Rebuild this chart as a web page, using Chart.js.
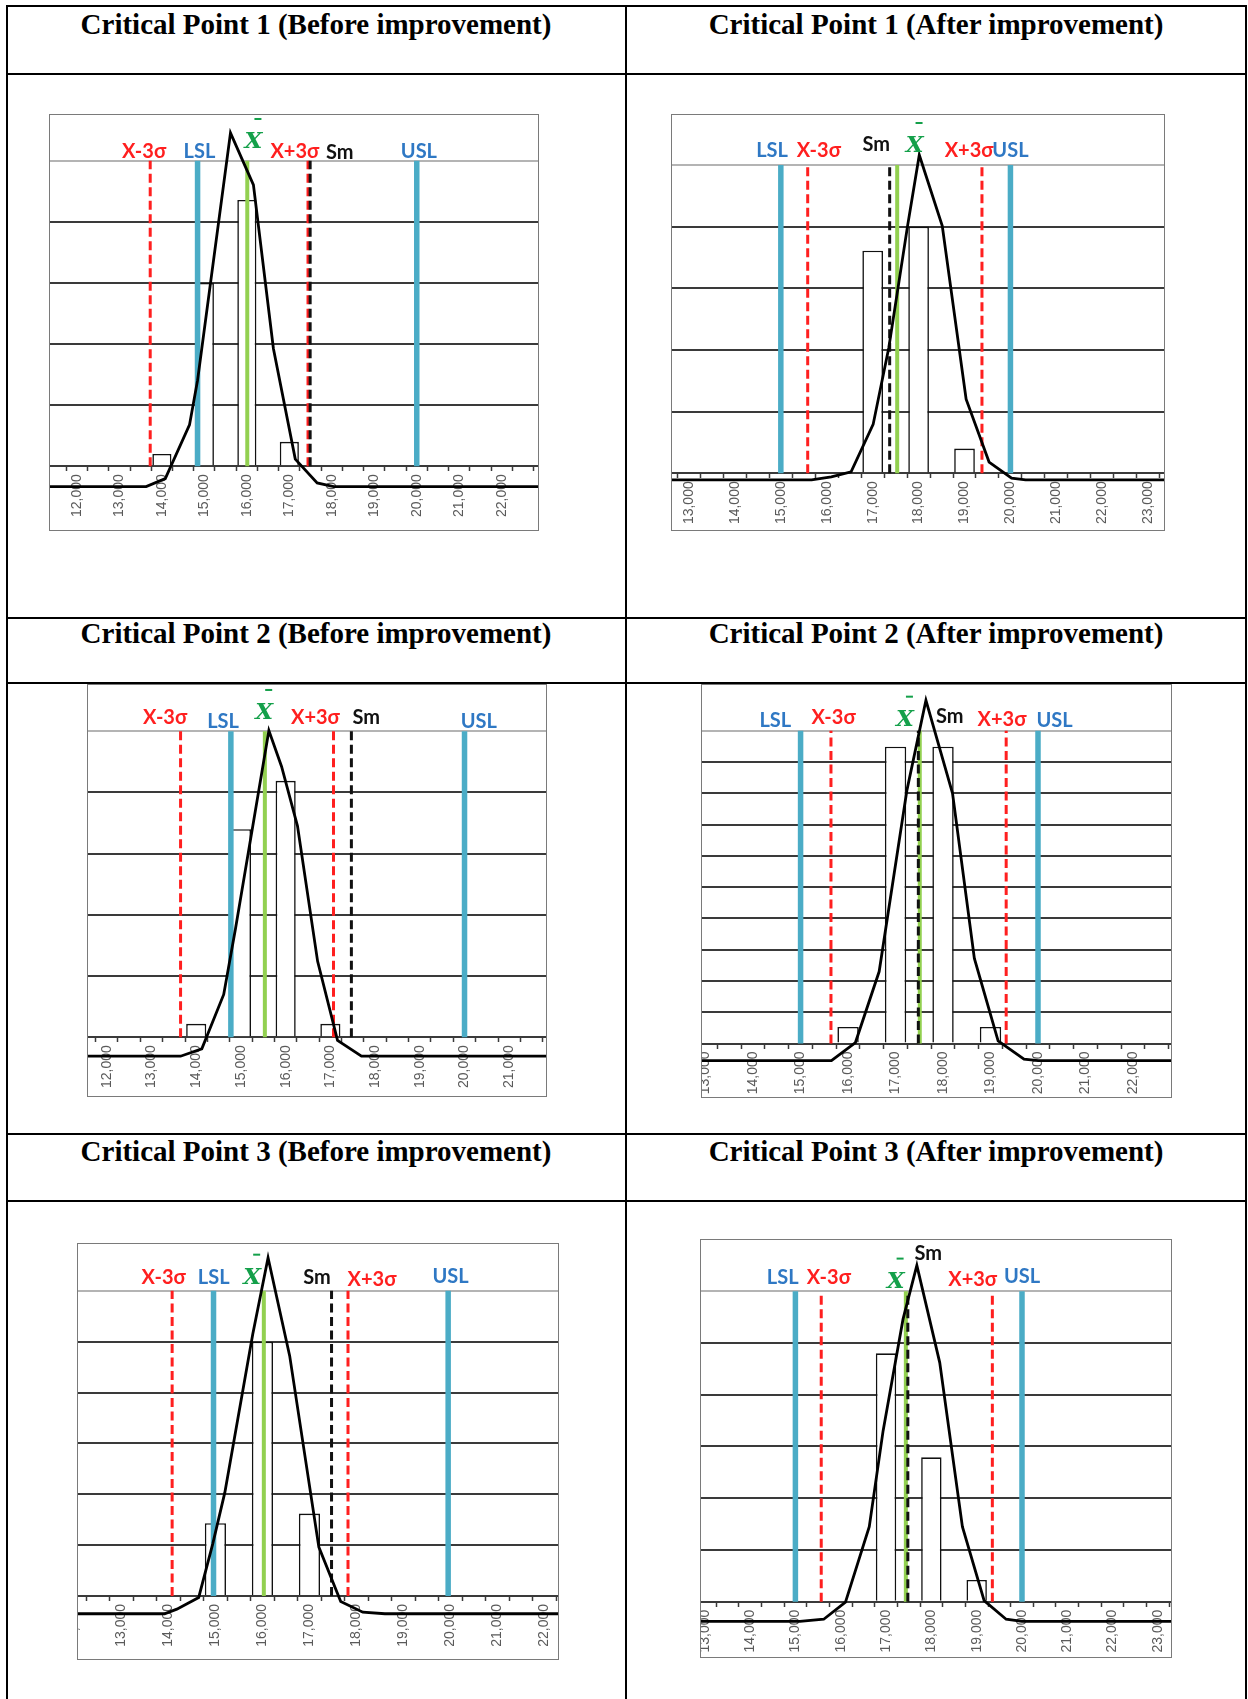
<!DOCTYPE html>
<html>
<head>
<meta charset="utf-8">
<script src="https://cdn.jsdelivr.net/npm/chart.js@4.4.1/dist/chart.umd.min.js"></script>
<style>
  body { margin: 0; background: #fff; width: 1248px; height: 1699px; overflow: hidden; position: relative; }
  .rule { position: absolute; background: #000; }
  .title { position: absolute; width: 620px; text-align: center; white-space: nowrap;
           font: bold 29px "Liberation Serif", "Times New Roman", serif; line-height: 29px; color: #000; }
  .frame { position: absolute; border: 1px solid #7a7a7a; background: #fff; }
  .frame canvas { display: block; }
</style>
</head>
<body>
<script>
// ===== Data =====

// marker order on every chart: X-3σ, LSL, mean, X+3σ, Sm, USL
const markerNames = ['X-3σ', 'LSL', 'X', 'X+3σ', 'Sm', 'USL'];

// Critical Point 1, before improvement
const cp1BeforeTicks = [12000, 13000, 14000, 15000, 16000, 17000, 18000, 19000, 20000, 21000, 22000];
const cp1BeforeBarX = [14000, 15000, 16000, 17000];
const cp1BeforeBarY = [0.2, 3.0, 4.36, 0.4];
const cp1BeforeCurveX = [11000, 13630, 14080, 14650, 14840, 15615, 15970, 16155, 16625, 17140, 17655, 18045, 23000];
const cp1BeforeCurveY = [0, 0, 0.13, 1.01, 1.74, 5.79, 5.23, 4.94, 2.26, 0.45, 0.06, 0, 0];
const cp1BeforeMarkers = [13725, 14840, 16010, 17440, 17490, 20000];

// Critical Point 1, after improvement
const cp1AfterTicks = [13000, 14000, 15000, 16000, 17000, 18000, 19000, 20000, 21000, 22000, 23000];
const cp1AfterBarX = [17000, 18000, 19000];
const cp1AfterBarY = [3.61, 4.0, 0.4];
const cp1AfterCurveX = [12500, 15670, 16100, 16530, 17010, 17350, 17760, 18015, 18515, 19035, 19535, 20025, 20330, 23500];
const cp1AfterCurveY = [0, 0, 0.05, 0.13, 0.90, 2.14, 4.12, 5.27, 4.12, 1.31, 0.29, 0.03, 0, 0];
const cp1AfterMarkers = [15585, 15000, 17534, 19380, 17370, 20000];

// Critical Point 2, before improvement
const cp2BeforeTicks = [12000, 13000, 14000, 15000, 16000, 17000, 18000, 19000, 20000, 21000];
const cp2BeforeBarX = [14000, 15000, 16000, 17000];
const cp2BeforeBarY = [0.22, 3.4, 4.19, 0.22];
const cp2BeforeCurveX = [11500, 13650, 14125, 14615, 14880, 15625, 15910, 16265, 16715, 17160, 17695, 22000];
const cp2BeforeCurveY = [0, 0, 0.12, 1.01, 2.09, 5.32, 4.73, 3.76, 1.55, 0.26, 0, 0];
const cp2BeforeMarkers = [13650, 14775, 15535, 17070, 17470, 20000];

// Critical Point 2, after improvement
const cp2AfterTicks = [13000, 14000, 15000, 16000, 17000, 18000, 19000, 20000, 21000, 22000];
const cp2AfterBarX = [16000, 17000, 18000, 19000];
const cp2AfterBarY = [0.53, 9.49, 9.49, 0.53];
const cp2AfterCurveX = [12900, 15650, 16155, 16655, 17240, 17640, 18200, 18660, 19160, 19705, 20000, 22900];
const cp2AfterCurveY = [0, 0, 0.58, 2.85, 8.65, 11.52, 8.55, 3.27, 0.63, 0.05, 0, 0];
const cp2AfterMarkers = [15640, 15000, 17510, 19330, 17480, 20000];

// Critical Point 3, before improvement
const cp3BeforeTicks = [12000, 13000, 14000, 15000, 16000, 17000, 18000, 19000, 20000, 21000, 22000];
const cp3BeforeBarX = [15000, 16000, 17000];
const cp3BeforeBarY = [1.43, 5.0, 1.62];
const cp3BeforeCurveX = [12000, 13920, 14180, 14645, 14945, 15200, 15795, 16120, 16580, 17200, 17665, 18135, 18605, 22300];
const cp3BeforeCurveY = [0, 0, 0.09, 0.32, 1.38, 2.38, 5.50, 7.00, 5.07, 1.31, 0.24, 0.03, 0, 0];
const cp3BeforeMarkers = [14080, 14960, 16030, 17820, 17470, 19950];

// Critical Point 3, after improvement
const cp3AfterTicks = [13000, 14000, 15000, 16000, 17000, 18000, 19000, 20000, 21000, 22000, 23000];
const cp3AfterBarX = [17000, 18000, 19000];
const cp3AfterBarY = [4.8, 2.79, 0.42];
const cp3AfterCurveX = [12900, 15100, 15625, 16105, 16630, 16935, 17375, 17680, 18185, 18685, 19165, 19650, 20000, 23300];
const cp3AfterCurveY = [0, 0, 0.04, 0.37, 1.83, 3.68, 5.84, 6.88, 5.00, 1.83, 0.40, 0.04, 0, 0];
const cp3AfterMarkers = [15570, 15000, 17437, 19346, 17481, 20000];

// ===== Styles =====
const markerStyles = [
  { color: '#ff1f1f', width: 3, dash: [9, 4.5], order: 3 },
  { color: '#4bacc6', width: 5.5, dash: [], order: 5 },
  { color: '#92d050', width: 4, dash: [], order: 4 },
  { color: '#ff1f1f', width: 3, dash: [9, 4.5], order: 3 },
  { color: '#111111', width: 3, dash: [9, 4.5], order: 2 },
  { color: '#4bacc6', width: 5.5, dash: [], order: 5 },
];
const labelColors = ['#ff1f1f', '#2f78c4', '#14a04a', '#ff1f1f', '#111111', '#2f78c4'];

// ===== Layout: table rules, titles, chart frames =====
const vRules = [6, 625, 1245];
const hRules = [5, 72.5, 616.5, 681.5, 1133, 1199.5];
vRules.forEach(x => addRule(x, 5, 2, 1700));
hRules.forEach(y => addRule(6, y, 1241, 2));

function addRule(left, top, w, h) {
  const d = document.createElement('div');
  d.className = 'rule';
  Object.assign(d.style, { left: left + 'px', top: top + 'px', width: w + 'px', height: h + 'px' });
  document.body.appendChild(d);
}

const titles = [
  ['Critical Point 1 (Before improvement)', 6, 10],
  ['Critical Point 1 (After improvement)', 626, 10],
  ['Critical Point 2 (Before improvement)', 6, 619],
  ['Critical Point 2 (After improvement)', 626, 619],
  ['Critical Point 3 (Before improvement)', 6, 1136.5],
  ['Critical Point 3 (After improvement)', 626, 1136.5],
];
titles.forEach(([text, left, top]) => {
  const d = document.createElement('div');
  d.className = 'title';
  d.textContent = text;
  d.style.left = left + 'px';
  d.style.top = top + 'px';
  document.body.appendChild(d);
});

// box = frame [left, top, width, height]; x/y = value range covered by the frame;
// curveBase = where the fitted curve's zero sits on the histogram's y scale
const panels = [
  { box: [49, 114, 490, 417], x: [11366, 22854], y: [-1.044, 5.75], gridTop: 5, curveBase: -0.333,
    ticks: cp1BeforeTicks, barX: cp1BeforeBarX, barY: cp1BeforeBarY,
    curveX: cp1BeforeCurveX, curveY: cp1BeforeCurveY, markers: cp1BeforeMarkers,
    labelAt: [[13580, 5.04], [14885, 5.04], [16155, 5.21], [17130, 5.04], [18185, 5.03], [20050, 5.04]] },
  { box: [671, 114, 494, 417], x: [12630, 23344], y: [-0.92, 5.81], gridTop: 5, curveBase: -0.108,
    ticks: cp1AfterTicks, barX: cp1AfterBarX, barY: cp1AfterBarY,
    curveX: cp1AfterCurveX, curveY: cp1AfterCurveY, markers: cp1AfterMarkers,
    labelAt: [[15827, 5.13], [14810, 5.13], [17912, 5.21], [19100, 5.13], [17077, 5.22], [20000, 5.13]] },
  { box: [87, 684, 460, 413], x: [11580, 21822], y: [-0.96, 5.755], gridTop: 5, curveBase: -0.31,
    ticks: cp2BeforeTicks, barX: cp2BeforeBarX, barY: cp2BeforeBarY,
    curveX: cp2BeforeCurveX, curveY: cp2BeforeCurveY, markers: cp2BeforeMarkers,
    labelAt: [[13304, 5.12], [14600, 5.06], [15520, 5.20], [16666, 5.12], [17802, 5.12], [20320, 5.06]] },
  { box: [701, 684, 471, 414], x: [12924, 22801], y: [-1.71, 11.46], gridTop: 10, curveBase: -0.55,
    ticks: cp2AfterTicks, barX: cp2AfterBarX, barY: cp2AfterBarY,
    curveX: cp2AfterCurveX, curveY: cp2AfterCurveY, markers: cp2AfterMarkers,
    labelAt: [[15695, 10.21], [14468, 10.11], [17198, 10.16], [19243, 10.16], [18142, 10.26], [20349, 10.11]] },
  { box: [77, 1243, 482, 417], x: [12078, 22286], y: [-1.24, 6.92], gridTop: 6, curveBase: -0.35,
    ticks: cp3BeforeTicks, barX: cp3BeforeBarX, barY: cp3BeforeBarY,
    curveX: cp3BeforeCurveX, curveY: cp3BeforeCurveY, markers: cp3BeforeMarkers,
    labelAt: [[13900, 6.14], [14964, 6.14], [15782, 6.14], [18330, 6.09], [17161, 6.14], [20000, 6.16]] },
  { box: [700, 1239, 472, 419], x: [12917, 23288], y: [-1.07, 6.99], gridTop: 6, curveBase: -0.38,
    ticks: cp3AfterTicks, barX: cp3AfterBarX, barY: cp3AfterBarY,
    curveX: cp3AfterCurveX, curveY: cp3AfterCurveY, markers: cp3AfterMarkers,
    labelAt: [[15737, 6.14], [14720, 6.14], [17211, 6.07], [18912, 6.10], [17930, 6.61], [20000, 6.15]] },
];

function labelPlugin(p) {
  return {
    id: 'markerLabels',
    afterDatasetsDraw(chart) {
      const { ctx, scales } = chart;
      ctx.save();
      ctx.textAlign = 'center';
      ctx.textBaseline = 'alphabetic';
      p.labelAt.forEach(([lx, ly], i) => {
        const px = scales.x.getPixelForValue(lx);
        const py = scales.y.getPixelForValue(ly);
        ctx.fillStyle = labelColors[i];
        if (i === 2) {
          ctx.font = 'italic bold 23px "DejaVu Serif", "Liberation Serif", serif';
          ctx.fillText(markerNames[i], px, py);
          ctx.fillRect(px + 1, py - 30, 7, 2); // bar over the X
        } else {
          ctx.font = 'bold 20px Lato, "Open Sans", sans-serif';
          ctx.fillText(markerNames[i], px, py);
        }
      });
      ctx.restore();
    }
  };
}

function buildPanel(p) {
  const frame = document.createElement('div');
  frame.className = 'frame';
  frame.style.left = p.box[0] + 'px';
  frame.style.top = p.box[1] + 'px';
  const w = p.box[2] - 2, h = p.box[3] - 2;
  const canvas = document.createElement('canvas');
  canvas.width = w;
  canvas.height = h;
  frame.appendChild(canvas);
  document.body.appendChild(frame);

  const gridValues = Array.from({ length: p.gridTop + 1 }, (_, i) => i);
  // small tick marks sit between the labels, every 500
  const markTicks = [];
  for (let v = Math.ceil((p.x[0] - 250) / 500) * 500 + 250; v < p.x[1]; v += 500) markTicks.push(v);

  const markerSets = p.markers.map((v, i) => ({
    type: 'line',
    data: [{ x: v, y: 0 }, { x: v, y: p.gridTop }],
    borderColor: markerStyles[i].color,
    borderWidth: markerStyles[i].width,
    borderDash: markerStyles[i].dash,
    borderCapStyle: 'butt',
    pointRadius: 0,
    order: markerStyles[i].order,
  }));

  const noPad = s => { s.paddingLeft = 0; s.paddingRight = 0; };

  new Chart(canvas, {
    type: 'line',
    data: {
      datasets: [
        {
          type: 'line',
          data: p.curveX.map((x, i) => ({ x, y: p.curveY[i] })),
          yAxisID: 'yc',
          borderColor: '#000',
          borderWidth: 2.8,
          pointRadius: 0,
          tension: 0,
          order: 0,
        },
        ...markerSets,
        {
          type: 'bar',
          data: p.barX.map((x, i) => ({ x, y: p.barY[i] })),
          backgroundColor: '#fff',
          borderColor: '#111',
          borderWidth: 1.6,
          barPercentage: 0.45,
          categoryPercentage: 1,
          order: 9,
        },
      ]
    },
    options: {
      responsive: false,
      animation: false,
      events: [],
      layout: { padding: 0 },
      plugins: { legend: { display: false }, tooltip: { enabled: false } },
      scales: {
        x: {
          type: 'linear', position: { y: 0 }, min: p.x[0], max: p.x[1], offset: false,
          afterBuildTicks: s => { s.ticks = p.ticks.map(v => ({ value: v })); },
          afterFit: noPad,
          grid: { drawOnChartArea: false, drawTicks: false, offset: false },
          border: { color: '#3a3a3a', width: 2 },
          ticks: {
            minRotation: 90, maxRotation: 90, autoSkip: false, padding: 8, color: '#5a5a5a',
            font: { family: 'Liberation Sans', size: 14 },
            callback: v => v.toLocaleString('en-US')
          }
        },
        xm: {
          type: 'linear', axis: 'x', position: { y: 0 }, min: p.x[0], max: p.x[1], offset: false,
          afterBuildTicks: s => { s.ticks = markTicks.map(v => ({ value: v })); },
          afterFit: noPad,
          grid: { drawOnChartArea: false, drawTicks: true, tickLength: 5, tickColor: '#3a3a3a', tickWidth: 1.5, offset: false },
          border: { display: false },
          ticks: { display: false }
        },
        y: {
          type: 'linear', position: 'left', min: p.y[0], max: p.y[1],
          afterBuildTicks: s => { s.ticks = gridValues.map(v => ({ value: v })); },
          afterFit: s => { s.width = 0; },
          grid: {
            drawTicks: false, lineWidth: 2,
            color: c => (c.tick && c.tick.value === p.gridTop) ? '#b4b4b4' : '#3a3a3a'
          },
          border: { display: false },
          ticks: { display: false }
        },
        yc: { type: 'linear', display: false, min: p.y[0] - p.curveBase, max: p.y[1] - p.curveBase }
      }
    },
    plugins: [labelPlugin(p)]
  });
}

panels.forEach(buildPanel);
</script>
</body>
</html>
